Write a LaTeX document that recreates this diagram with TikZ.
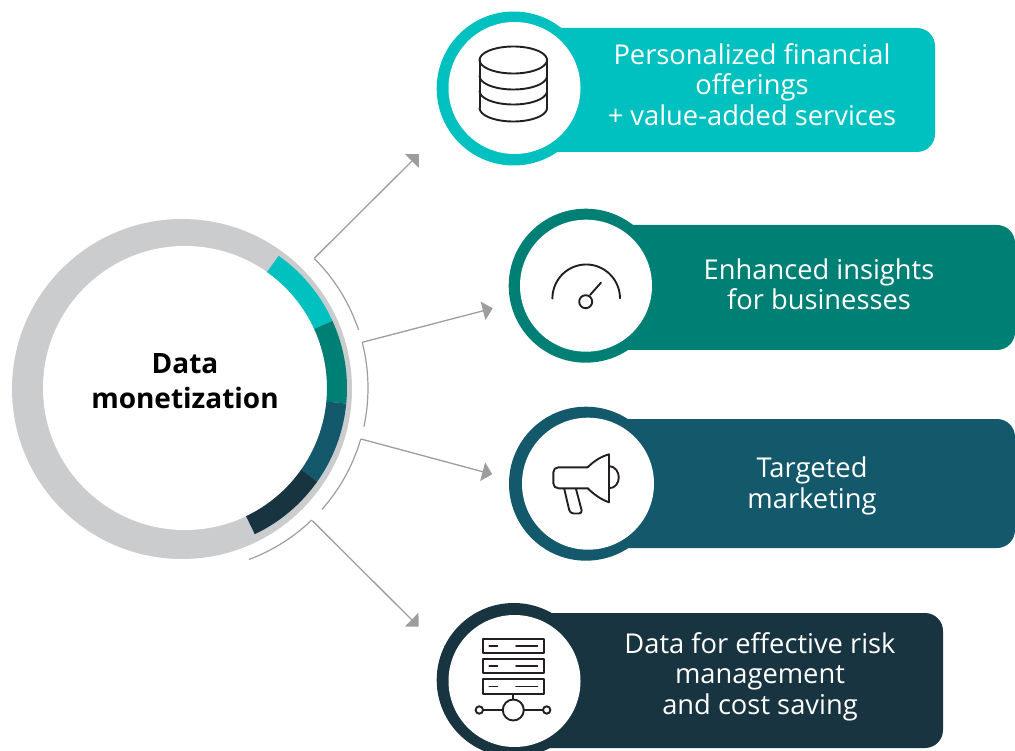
\documentclass[tikz,border=0pt]{standalone}
\usepackage{fontspec}
\setmainfont{Open Sans}
\usetikzlibrary{arrows.meta}
\definecolor{cA}{HTML}{00C1BF}
\definecolor{cB}{HTML}{007F75}
\definecolor{cC}{HTML}{14586B}
\definecolor{cD}{HTML}{183440}
\definecolor{ringgray}{HTML}{CBCCCE}
\definecolor{linegray}{HTML}{9B9D9E}
\definecolor{iconblack}{HTML}{231F20}
\tikzset{
  x=1pt,y=-1pt,
  card/.style={draw=none,rounded corners=18pt,inner sep=0pt,outer sep=0pt},
  disc/.style={circle,fill=white,draw=none,minimum size=132pt,inner sep=0pt},
  halo/.style={circle,draw=none,minimum size=154pt,inner sep=0pt},
  cardtext/.style={text=white,align=center,font=\fontsize{27.3}{30.5}\selectfont,inner sep=0pt},
  hubtext/.style={text=black,align=center,font=\fontsize{28}{35}\selectfont\bfseries,inner sep=0pt},
  thinarc/.style={draw=linegray,line width=1.2pt},
  pointer/.style={draw=linegray,line width=1.3pt,-{Triangle[length=10pt,width=19pt,fill=linegray]}},
  icon/.style={draw=iconblack,line width=1.9pt,line join=round,line cap=round},
}
\newcommand{\ringseg}[3]{\draw[#1,line width=20pt] plot[domain=#2:#3,samples=40] ({185+152*cos(\x)},{388-152*sin(\x)});}
\newcommand{\guidearc}[2]{\draw[thinarc] plot[domain=#1:#2,samples=40] ({185+183*cos(\x)},{388-183*sin(\x)});}
\begin{document}
\begin{tikzpicture}
\useasboundingbox (0,0) rectangle (1015,751);
\clip (0,0) rectangle (1015,751);
% ring
\node[circle,fill=ringgray,minimum size=340pt,inner sep=0pt] (ringouter) at (182,389) {};
\node[circle,fill=white,minimum size=284pt,inner sep=0pt] (ringinner) at (185,388) {};
\ringseg{cA}{24.5}{54.7}
\ringseg{cB}{-5.5}{24.5}
\ringseg{cC}{-35.2}{-5.5}
\ringseg{cD}{-64.5}{-35.2}
\node[hubtext] (hub) at (185,381.5) {Data\\monetization};
% guide arcs
\guidearc{18.5}{45}
\guidearc{-12.2}{14.5}
\guidearc{-41.6}{-16.2}
\guidearc{-69.5}{-46.2}
% cards
\node[card,fill=cA,minimum width=405pt,minimum height=124pt] (card1) at (732.5,90) {};
\node[halo,fill=cA] (halo1) at (513.7,88.5) {};
\node[disc] (disc1) at (514.5,88) {};
\node[cardtext] (text1) at (752,84.5) {Personalized financial\\offerings\\+ value-added services};
\node[card,fill=cB,minimum width=475pt,minimum height=125pt] (card2) at (777.5,287.5) {};
\node[halo,fill=cB] (halo2) at (585.7,285.7) {};
\node[disc] (disc2) at (586,285.7) {};
\node[cardtext] (text2) at (819,284.5) {Enhanced insights\\for businesses};
\node[card,fill=cC,minimum width=475pt,minimum height=129pt] (card3) at (777.5,483.5) {};
\node[halo,fill=cC] (halo3) at (586,483.7) {};
\node[disc] (disc3) at (588,483.7) {};
\node[cardtext] (text3) at (812,486) {Targeted\\marketing};
\node[card,fill=cD,minimum width=413pt,minimum height=135pt] (card4) at (736.5,680.5) {};
\node[halo,fill=cD] (halo4) at (513.7,680) {};
\node[disc] (disc4) at (514.5,681) {};
\node[cardtext] (text4) at (760,676.5) {Data for effective risk\\management\\and cost saving};
% connectors
\coordinate (s1) at (314.3,258.3); \coordinate (e1) at (419,154);
\coordinate (s2) at (362.3,342.3); \coordinate (e2) at (492.7,308.3);
\coordinate (s3) at (361,439);     \coordinate (e3) at (492.3,474.3);
\coordinate (s4) at (312.3,520.7); \coordinate (e4) at (418.7,626.7);
\draw[pointer] (s1) -- (e1);
\draw[pointer] (s2) -- (e2);
\draw[pointer] (s3) -- (e3);
\draw[pointer] (s4) -- (e4);
\begin{scope}[icon]
% database icon
\draw plot[domain=0:360,samples=60] ({513.3+33.7*cos(\x)},{60+13.5*sin(\x)});
\draw (479.6,60) -- (479.6,108) (547,60) -- (547,108);
\foreach \yy in {76,91,108}
  \draw plot[domain=0:180,samples=40] ({513.3+33.7*cos(\x)},{\yy+13.5*sin(\x)});
% gauge icon
\draw plot[domain=180:360,samples=50] ({586.2+33.8*cos(\x)},{298.5+34*sin(\x)});
\draw (585.7,301.7) circle[radius=6.5pt];
\draw (590,295) -- (601,282.7);
% megaphone icon
\draw[rounded corners=5pt] (587.7,467.3) -- (553.3,467.3) -- (553.3,488.3) -- (587.7,488.3);
\draw (587.7,467.3) .. controls (594,461) and (601,456.5) .. (609,454.3) -- (609,502.3) .. controls (601,499.5) and (594,494.5) .. (587.7,488.3);
\draw (609,466) .. controls (622,467) and (622,488) .. (609,488.3);
\draw[rounded corners=3.5pt] (564.3,489) -- (570,513.5) -- (582.5,513.5) -- (576,489);
% server icon
\foreach \yy in {639,659,679.3}{
  \draw (482.7,\yy) rectangle (544,\yy+14.4);
  \draw (489.3,\yy+7.2) -- (497.3,\yy+7.2) (516,\yy+7.2) -- (537.3,\yy+7.2);
}
\draw (513.3,693.7) -- (513.3,699.5);
\draw (513.3,710) circle[radius=10.5pt];
\draw (483,710) -- (502.8,710) (523.8,710) -- (543,710);
\draw (479.3,710) circle[radius=3.7pt];
\draw (546.7,710) circle[radius=3.7pt];
\end{scope}
\end{tikzpicture}
\end{document}
